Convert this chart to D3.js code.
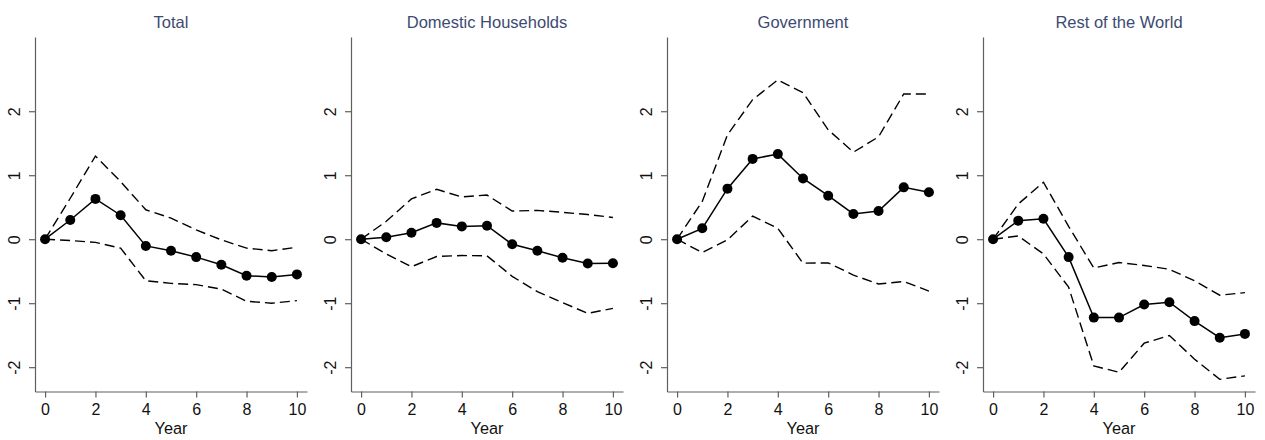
<!DOCTYPE html>
<html>
<head>
<meta charset="utf-8">
<script src="https://cdn.jsdelivr.net/npm/d3@7"></script>
<style>
  html, body { margin: 0; padding: 0; background: #fff; }
  svg { display: block; font-family: "Liberation Sans", Arial, sans-serif; }
</style>
</head>
<body>
<svg id="chart" width="1265" height="440"></svg>
<script>
// Impulse responses by sector: point estimate with upper/lower bands
const years = [0, 1, 2, 3, 4, 5, 6, 7, 8, 9, 10];
const panelTitles = ["Total", "Domestic Households", "Government", "Rest of the World"];
const yTicks = [-2, -1, 0, 1, 2];
const xTicks = [0, 2, 4, 6, 8, 10];

const totalEst   = [0, 0.30, 0.63, 0.375, -0.105, -0.18, -0.28, -0.40, -0.57, -0.59, -0.55];
const totalUpper = [0, 0.64, 1.30, 0.90, 0.46, 0.33, 0.145, -0.01, -0.14, -0.18, -0.125];
const totalLower = [0, -0.02, -0.05, -0.14, -0.65, -0.69, -0.71, -0.78, -0.97, -1.00, -0.96];

const householdsEst   = [0, 0.03, 0.10, 0.255, 0.20, 0.21, -0.08, -0.18, -0.29, -0.38, -0.375];
const householdsUpper = [0, 0.28, 0.63, 0.78, 0.66, 0.69, 0.44, 0.45, 0.42, 0.385, 0.34];
const householdsLower = [0, -0.23, -0.43, -0.27, -0.255, -0.26, -0.58, -0.82, -0.99, -1.16, -1.08];

const governmentEst   = [0, 0.17, 0.79, 1.255, 1.33, 0.95, 0.68, 0.395, 0.44, 0.81, 0.735];
const governmentUpper = [0, 0.59, 1.63, 2.18, 2.49, 2.29, 1.71, 1.36, 1.60, 2.27, 2.27];
const governmentLower = [0, -0.21, -0.01, 0.36, 0.17, -0.375, -0.37, -0.56, -0.70, -0.66, -0.81];

const worldEst   = [0, 0.29, 0.32, -0.28, -1.225, -1.225, -1.02, -0.985, -1.28, -1.54, -1.48];
const worldUpper = [0, 0.55, 0.89, 0.20, -0.45, -0.365, -0.41, -0.47, -0.65, -0.875, -0.835];
const worldLower = [0, 0.05, -0.23, -0.75, -1.98, -2.08, -1.625, -1.505, -1.875, -2.19, -2.135];

const panels = [
  { title: panelTitles[0], est: totalEst, upper: totalUpper, lower: totalLower },
  { title: panelTitles[1], est: householdsEst, upper: householdsUpper, lower: householdsLower },
  { title: panelTitles[2], est: governmentEst, upper: governmentUpper, lower: governmentLower },
  { title: panelTitles[3], est: worldEst, upper: worldUpper, lower: worldLower }
];

const svg = d3.select("#chart");
const panelStep = 316;
const plotLeft = 35, plotRight = 307, plotTop = 37, plotBottom = 391.5;
const axisColor = "#5f5f5f";
const fontFamily = "Liberation Sans, Arial, sans-serif";
const plainNumber = d => String(d);

const x = d3.scaleLinear().domain([-0.4, 10.4]).range([plotLeft, plotRight]);
const y = d3.scaleLinear().domain([-2.38, 3.16]).range([plotBottom, plotTop]);

const line = d3.line().x((d, i) => x(years[i])).y(d => y(d));

panels.forEach((p, k) => {
  const g = svg.append("g").attr("transform", `translate(${k * panelStep},0)`);

  // title
  g.append("text")
    .attr("x", (plotLeft + plotRight) / 2)
    .attr("y", 28)
    .attr("text-anchor", "middle")
    .attr("font-size", 16.5)
    .attr("fill", "#3d4a72")
    .text(p.title);

  // y axis
  const ya = g.append("g")
    .attr("transform", `translate(${plotLeft},0)`)
    .call(d3.axisLeft(y).tickValues(yTicks).tickFormat(plainNumber).tickSizeOuter(0).tickSizeInner(6).tickPadding(0));
  ya.attr("font-size", null).attr("font-family", null);
  ya.select(".domain").attr("stroke", axisColor).attr("stroke-width", 1.2);
  ya.selectAll(".tick line").attr("stroke", axisColor).attr("stroke-width", 1.2);
  ya.selectAll(".tick text")
    .attr("font-size", 16)
    .attr("fill", "#111")
    .attr("font-family", fontFamily)
    .attr("text-anchor", "middle")
    .attr("transform", "rotate(-90)")
    .attr("x", 0)
    .attr("y", -15)
    .attr("dy", 0);

  // x axis
  const xa = g.append("g")
    .attr("transform", `translate(0,${plotBottom})`)
    .call(d3.axisBottom(x).tickValues(xTicks).tickFormat(plainNumber).tickSizeOuter(0).tickSizeInner(6).tickPadding(0));
  xa.attr("font-size", null).attr("font-family", null);
  xa.select(".domain").attr("stroke", axisColor).attr("stroke-width", 1.2);
  xa.selectAll(".tick line").attr("stroke", axisColor).attr("stroke-width", 1.2);
  xa.selectAll(".tick text")
    .attr("font-size", 16)
    .attr("fill", "#111")
    .attr("font-family", fontFamily)
    .attr("y", 23.5)
    .attr("dy", 0);

  // x axis title
  g.append("text")
    .attr("x", (plotLeft + plotRight) / 2)
    .attr("y", 433.5)
    .attr("text-anchor", "middle")
    .attr("font-size", 16.3)
    .attr("fill", "#111")
    .text("Year");

  // confidence bands
  [p.upper, p.lower].forEach(band => {
    g.append("path")
      .datum(band)
      .attr("d", line)
      .attr("fill", "none")
      .attr("stroke", "#000")
      .attr("stroke-width", 1.4)
      .attr("stroke-dasharray", "10,5");
  });

  // point estimate
  g.append("path")
    .datum(p.est)
    .attr("d", line)
    .attr("fill", "none")
    .attr("stroke", "#000")
    .attr("stroke-width", 1.5);

  g.selectAll("circle.pt")
    .data(p.est)
    .enter().append("circle")
    .attr("class", "pt")
    .attr("cx", (d, i) => x(years[i]))
    .attr("cy", d => y(d))
    .attr("r", 5)
    .attr("fill", "#000");
});
</script>
</body>
</html>
